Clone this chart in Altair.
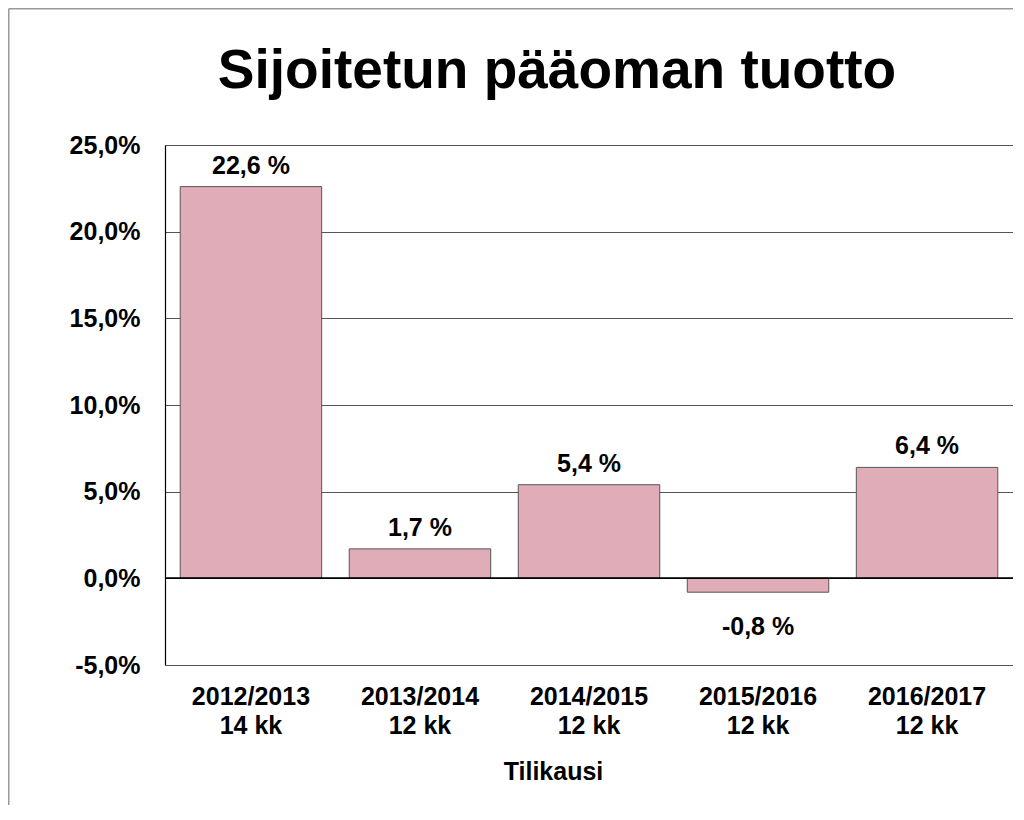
import altair as alt
import pandas as pd

periods = ["2012/2013|14 kk", "2013/2014|12 kk", "2014/2015|12 kk", "2015/2016|12 kk", "2016/2017|12 kk"]
values = [22.6, 1.7, 5.4, -0.8, 6.4]
y_ticks = [-5, 0, 5, 10, 15, 20, 25]
title_text = ["Sijoitetun pääoman tuotto"]

df = pd.DataFrame({"period": periods, "value": values})
df_title = pd.DataFrame({"t": title_text})

FONT = "Liberation Sans"
W, H = 848, 520
PAD_L, PAD_T = 157, 137
PAD_R, PAD_B = 0, 140

x_enc = alt.X(
    "period:N",
    sort=periods,
    scale=alt.Scale(paddingInner=0.163, paddingOuter=0.09),
    axis=alt.Axis(
        title="Tilikausi",
        labelExpr="split(datum.label, '|')",
        labelAngle=0,
        labelFont=FONT,
        labelFontSize=25,
        labelFontWeight="bold",
        labelColor="black",
        labelLineHeight=29,
        labelBaseline="top",
        labelPadding=19,
        ticks=False,
        domain=False,
        grid=False,
        titleFont=FONT,
        titleFontSize=25,
        titleFontWeight="bold",
        titleColor="black",
        titleX=388,
        titleY=114,
        titleAlign="center",
        titleBaseline="alphabetic",
    ),
)

y_scale = alt.Scale(domain=[-5, 25], nice=False, zero=False)

bars = alt.Chart(df).mark_bar(
    color="#E0ACB8", stroke="#555555", strokeWidth=1
).encode(
    x=x_enc,
    y=alt.Y(
        "value:Q",
        scale=y_scale,
        axis=alt.Axis(
            title=None,
            values=y_ticks,
            labelExpr="replace(replace(format(datum.value, '.1f'), '.', ','), '\u2212', '-') + '%'",
            labelFont=FONT,
            labelFontSize=25,
            labelFontWeight="bold",
            labelColor="black",
            labelPadding=25,
            ticks=False,
            domain=True,
            domainColor="black",
            domainWidth=1.2,
            grid=True,
            gridColor="#555555",
            gridWidth=1,
        ),
    ),
    y2=alt.datum(0),
)

label_calc = "replace(replace(format(datum.value, '.1f'), '.', ','), '\u2212', '-') + ' %'"

labels_pos = alt.Chart(df).transform_filter("datum.value >= 0").transform_calculate(
    lab=label_calc
).mark_text(
    font=FONT, fontSize=25, fontWeight="bold", color="black", baseline="alphabetic", dy=-13
).encode(x=alt.X("period:N", sort=periods), y=alt.Y("value:Q", scale=y_scale), text="lab:N")

labels_neg = alt.Chart(df).transform_filter("datum.value < 0").transform_calculate(
    lab=label_calc
).mark_text(
    font=FONT, fontSize=25, fontWeight="bold", color="black", baseline="alphabetic", dy=43
).encode(x=alt.X("period:N", sort=periods), y=alt.Y("value:Q", scale=y_scale), text="lab:N")

zero_rule = alt.Chart(df).mark_rule(color="black", strokeWidth=1.2).encode(y=alt.datum(0))

title_mark = alt.Chart(df_title).mark_text(
    font=FONT, fontSize=55, fontWeight="bold", color="black", align="center",
    baseline="alphabetic", clip=False
).encode(x=alt.value(W / 2 - 32), y=alt.value(-57), text="t:N")

frame_left = alt.Chart(df_title).mark_rule(color="#999999", strokeWidth=1.5, clip=False).encode(
    x=alt.value(-PAD_L + 0.75), y=alt.value(-PAD_T + 0.75), y2=alt.value(H + PAD_B)
)
frame_top = alt.Chart(df_title).mark_rule(color="#999999", strokeWidth=1.5, clip=False).encode(
    x=alt.value(-PAD_L + 0.75), x2=alt.value(W + PAD_R), y=alt.value(-PAD_T + 0.75)
)

chart = alt.layer(bars, zero_rule, labels_pos, labels_neg, title_mark, frame_left, frame_top).properties(
    width=W,
    height=H,
    padding={"left": PAD_L, "top": PAD_T, "right": PAD_R, "bottom": PAD_B},
    autosize=alt.AutoSizeParams(type="none"),
).configure_view(stroke="#a0a0a0", strokeWidth=2).configure(background="white")

chart.save("out.html", embed_options={"renderer": "svg", "actions": False})
